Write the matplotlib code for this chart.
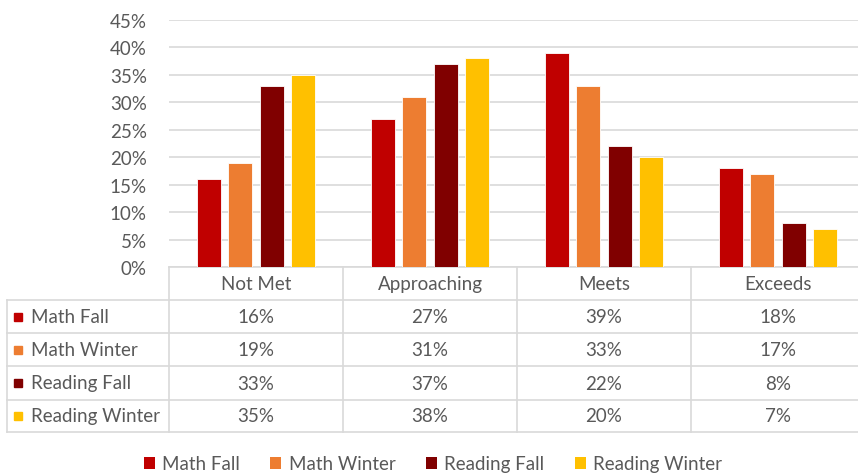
import matplotlib
matplotlib.use("Agg")
import matplotlib.pyplot as plt
from matplotlib.patches import Rectangle, Patch
from matplotlib.lines import Line2D
import numpy as np

categories = ["Not Met", "Approaching", "Meets", "Exceeds"]
series_names = ["Math Fall", "Math Winter", "Reading Fall", "Reading Winter"]
math_fall = [16, 27, 39, 18]
math_winter = [19, 31, 33, 17]
reading_fall = [33, 37, 22, 8]
reading_winter = [35, 38, 20, 7]
yticks = [0, 5, 10, 15, 20, 25, 30, 35, 40, 45]
colors = ["#C00000", "#ED7D31", "#800000", "#FFC000"]

series = [math_fall, math_winter, reading_fall, reading_winter]

W, H = 858, 477
plt.rcParams['font.family'] = ['Lato', 'DejaVu Sans']
txt = "#595959"
grid = "#D9D9D9"
fs = 13.5

fig = plt.figure(figsize=(W / 100, H / 100), dpi=100)

def fx(px):
    return px / W

def fy(py):
    return 1 - py / H

# plot area in pixels (extends slightly past the right edge, as in the reference)
x0, x1 = 169, 865
y_top, y_bot = 21, 268
ax = fig.add_axes([fx(x0), fy(y_bot), fx(x1 - x0), (y_bot - y_top) / H])
ax.set_xlim(-0.5, len(categories) - 0.5)
ax.set_ylim(0, 45)
n = len(series)
bw = 0.139
step = 0.18
x = np.arange(len(categories))
for i, (vals, c) in enumerate(zip(series, colors)):
    off = (i - (n - 1) / 2) * step
    ax.bar(x + off, vals, width=bw, color=c, edgecolor="white", linewidth=0.6, zorder=3)
ax.set_yticks(yticks)
ax.set_yticklabels([f"{t}%" for t in yticks], color=txt, fontsize=fs)
ax.tick_params(axis="y", length=0, pad=16)
ax.set_xticks([])
ax.grid(axis="y", color=grid, linewidth=1.2, zorder=0)
for s in ["top", "right", "left"]:
    ax.spines[s].set_visible(False)
ax.spines["bottom"].set_color(grid)
ax.spines["bottom"].set_linewidth(1.2)

# data table
col_left = 7
col_edges = [x0 + (x1 - x0) * k / len(categories) for k in range(len(categories) + 1)]
row_edges = [268, 301, 334, 367, 401, 433]
lw = 1.2

def hline(y, xa, xb):
    fig.add_artist(Line2D([fx(xa), fx(xb)], [fy(y), fy(y)], color=grid, lw=lw, transform=fig.transFigure))

def vline(xp, ya, yb):
    fig.add_artist(Line2D([fx(xp), fx(xp)], [fy(ya), fy(yb)], color=grid, lw=lw, transform=fig.transFigure))

for r in row_edges[1:]:
    hline(r, col_left, x1)
for ce in col_edges:
    vline(ce, row_edges[0], row_edges[-1])
vline(col_left, row_edges[1], row_edges[-1])

for j, cat in enumerate(categories):
    cx = (col_edges[j] + col_edges[j + 1]) / 2
    cy = (row_edges[0] + row_edges[1]) / 2
    fig.text(fx(cx), fy(cy), cat, ha="center", va="center", color=txt, fontsize=fs)

for i, (name, vals, c) in enumerate(zip(series_names, series, colors)):
    cy = (row_edges[i + 1] + row_edges[i + 2]) / 2
    fig.add_artist(Rectangle((fx(14), fy(cy + 4)), fx(8), 8 / H, color=c, transform=fig.transFigure))
    fig.text(fx(31), fy(cy), name, ha="left", va="center", color=txt, fontsize=fs)
    for j, v in enumerate(vals):
        cx = (col_edges[j] + col_edges[j + 1]) / 2
        fig.text(fx(cx), fy(cy), f"{v}%", ha="center", va="center", color=txt, fontsize=fs)

handles = [Patch(facecolor=c, edgecolor="none") for c in colors]
fig.legend(handles, series_names, loc="center", bbox_to_anchor=(fx(433), fy(465)), ncol=4,
           frameon=False, fontsize=fs, labelcolor=txt, handlelength=0.6, handleheight=0.6,
           handletextpad=0.4, columnspacing=1.6)

fig.savefig("out.png", dpi=100, facecolor="white")
